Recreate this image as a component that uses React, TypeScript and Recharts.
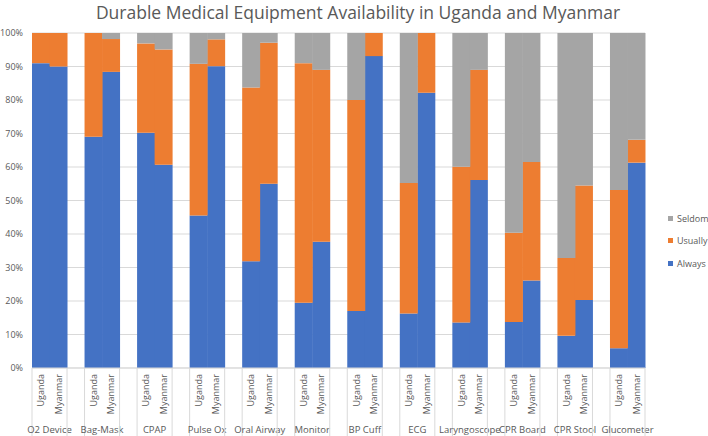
import React from 'react';
import { BarChart, Bar, XAxis, YAxis, CartesianGrid } from 'recharts';

const groups = ['O2 Device', 'Bag-Mask', 'CPAP', 'Pulse Ox', 'Oral Airway', 'Monitor', 'BP Cuff', 'ECG', 'Laryngoscope', 'CPR Board', 'CPR Stool', 'Glucometer'];
const countries = ['Uganda', 'Myanmar'];

const ugandaAlways = [91, 69, 70.2, 45.5, 31.9, 19.5, 17, 16.3, 13.6, 13.7, 9.6, 5.9];
const ugandaUsually = [9, 31, 26.7, 45.3, 51.8, 71.5, 63, 38.9, 46.5, 26.7, 23.2, 47.2];
const ugandaSeldom = [0, 0, 3.1, 9.2, 16.3, 9, 20, 44.8, 39.9, 59.6, 67.2, 46.9];

const myanmarAlways = [90, 88.4, 60.7, 90.1, 55, 37.7, 93.1, 82.2, 56.1, 26.1, 20.3, 61.3];
const myanmarUsually = [10, 9.8, 34.4, 8, 42.1, 51.3, 6.9, 17.8, 32.9, 35.4, 34.2, 6.8];
const myanmarSeldom = [0, 1.8, 4.9, 1.9, 2.9, 11, 0, 0, 11, 38.5, 45.5, 31.9];

const yTicks = [0, 10, 20, 30, 40, 50, 60, 70, 80, 90, 100];
const legendItems = ['Seldom', 'Usually', 'Always'];

const COLORS: Record<string, string> = { Always: '#4472C4', Usually: '#ED7D31', Seldom: '#A5A5A5' };
const FONT = '"Open Sans", sans-serif';
const TEXT = '#595959';
const GRID = '#D9D9D9';

type Row = { key: number; country: string; group: string; always?: number; usually?: number; seldom?: number };

const rows: Row[] = [];
groups.forEach((g, i) => {
  rows.push({ key: rows.length, country: countries[0], group: g, always: ugandaAlways[i], usually: ugandaUsually[i], seldom: ugandaSeldom[i] });
  rows.push({ key: rows.length, country: countries[1], group: g, always: myanmarAlways[i], usually: myanmarUsually[i], seldom: myanmarSeldom[i] });
  if (i < groups.length - 1) rows.push({ key: rows.length, country: '', group: '' });
});

const CategoryTick = (props: any) => {
  const { x, y, payload } = props;
  const row = rows[payload.value];
  if (!row || !row.country) return null;
  const bw = payload.offset ? payload.offset * 2 : 17.53;
  const isFirst = row.country === countries[0];
  const lineX = isFirst ? x - bw / 2 : x + bw / 2;
  return (
    <g>
      <line x1={lineX} x2={lineX} y1={y} y2={436} stroke={GRID} strokeWidth={1} />
      <text
        x={0}
        y={0}
        transform={`translate(${x + 3.5},${y + 6}) rotate(-90)`}
        textAnchor="end"
        fontSize={9}
        fontFamily={FONT}
        fill={TEXT}
      >
        {row.country}
      </text>
      {isFirst && (
        <text x={x + bw / 2} y={y + 65} textAnchor="middle" fontSize={9.5} fontFamily={FONT} fill={TEXT}>
          {row.group}
        </text>
      )}
    </g>
  );
};

export default function App() {
  return (
    <div style={{ position: 'absolute', left: 0, top: 0, width: 708, height: 436, background: '#fff', overflow: 'hidden' }}>
      <BarChart
        width={708}
        height={436}
        data={rows}
        margin={{ top: 33, right: 63, left: 0, bottom: 0 }}
        barCategoryGap={0}
        barGap={0}
      >
        <text x={358} y={19} textAnchor="middle" fontSize={17.5} fontFamily={FONT} fill={TEXT}>
          Durable Medical Equipment Availability in Uganda and Myanmar
        </text>
        <CartesianGrid vertical={false} stroke={GRID} />
        <XAxis
          dataKey="key"
          type="category"
          interval={0}
          height={68}
          tickLine={false}
          tickSize={0}
          tickMargin={0}
          axisLine={{ stroke: GRID }}
          tick={<CategoryTick />}
        />
        <YAxis
          width={32}
          domain={[0, 100]}
          ticks={yTicks}
          tickFormatter={(v: number) => `${v}%`}
          axisLine={false}
          tickLine={false}
          tickSize={0}
          tickMargin={9}
          tick={{ fontSize: 9, fontFamily: FONT, fill: TEXT }}
          interval={0}
        />
        <Bar dataKey="always" name="Always" stackId="s" fill={COLORS.Always} isAnimationActive={false} />
        <Bar dataKey="usually" name="Usually" stackId="s" fill={COLORS.Usually} isAnimationActive={false} />
        <Bar dataKey="seldom" name="Seldom" stackId="s" fill={COLORS.Seldom} isAnimationActive={false} />
      </BarChart>
      <div style={{ position: 'absolute', left: 668, top: 207, fontFamily: FONT, fontSize: 9, color: TEXT }}>
        {legendItems.map((name) => (
          <div key={name} style={{ display: 'flex', alignItems: 'center', height: 22.5 }}>
            <span style={{ display: 'inline-block', width: 5, height: 5, background: COLORS[name], marginRight: 4 }} />
            <span>{name}</span>
          </div>
        ))}
      </div>
    </div>
  );
}
